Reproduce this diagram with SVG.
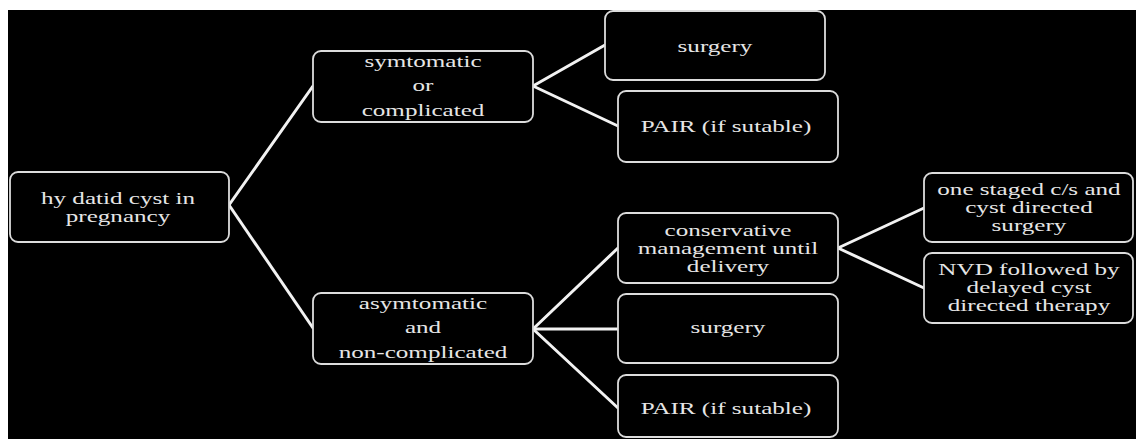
<svg xmlns="http://www.w3.org/2000/svg" width="1136" height="439" viewBox="0 0 1136 439">
<style>
.box{fill:#000;stroke:#dcdcdc;stroke-width:1.8}
.t{font-family:"Liberation Serif","Times New Roman",serif;font-size:16px;fill:#e6e6e6;text-anchor:middle}
.c{stroke:#f2f2f2;stroke-width:3;fill:none;stroke-linecap:round}
</style>
<rect x="0" y="0" width="1136" height="439" fill="#fff"/>
<rect x="8" y="10" width="1128" height="429" fill="#000"/>
<g id="connectors">
<line class="c" x1="229" y1="205" x2="313" y2="86"/>
<line class="c" x1="229" y1="205" x2="313" y2="328"/>
<line class="c" x1="533" y1="86" x2="605" y2="45"/>
<line class="c" x1="533" y1="86" x2="618" y2="126"/>
<line class="c" x1="533" y1="329" x2="618" y2="248"/>
<line class="c" x1="533" y1="329" x2="618" y2="329"/>
<line class="c" x1="533" y1="329" x2="618" y2="408"/>
<line class="c" x1="838" y1="248" x2="924" y2="208"/>
<line class="c" x1="838" y1="248" x2="924" y2="288"/>
</g>
<g id="root">
<rect class="box" x="10" y="172" width="219" height="70" rx="8"/>
<text class="t" transform="translate(118,204) scale(1.57,1)"><tspan x="0" y="0">hy datid cyst in</tspan><tspan x="0" y="18">pregnancy</tspan></text>
</g>
<g id="symptomatic">
<rect class="box" x="313" y="51" width="220" height="71" rx="8"/>
<text class="t" transform="translate(423,67) scale(1.57,1)"><tspan x="0" y="0">symtomatic</tspan><tspan x="0" y="24">or</tspan><tspan x="0" y="49">complicated</tspan></text>
</g>
<g id="surgery1">
<rect class="box" x="605" y="11" width="220" height="69" rx="8"/>
<text class="t" transform="translate(715,52) scale(1.57,1)">surgery</text>
</g>
<g id="pair1">
<rect class="box" x="618" y="91" width="220" height="71" rx="8"/>
<text class="t" transform="translate(726,132) scale(1.57,1)">PAIR (if sutable)</text>
</g>
<g id="asymptomatic">
<rect class="box" x="313" y="293" width="220" height="71" rx="8"/>
<text class="t" transform="translate(423,309) scale(1.57,1)"><tspan x="0" y="0">asymtomatic</tspan><tspan x="0" y="24">and</tspan><tspan x="0" y="49">non-complicated</tspan></text>
</g>
<g id="conservative">
<rect class="box" x="618" y="213" width="220" height="70" rx="8"/>
<text class="t" transform="translate(728,236) scale(1.57,1)"><tspan x="0" y="0">conservative</tspan><tspan x="0" y="18">management until</tspan><tspan x="0" y="36">delivery</tspan></text>
</g>
<g id="surgery2">
<rect class="box" x="618" y="294" width="220" height="69" rx="8"/>
<text class="t" transform="translate(728,333) scale(1.57,1)">surgery</text>
</g>
<g id="pair2">
<rect class="box" x="618" y="375" width="220" height="62" rx="8"/>
<text class="t" transform="translate(726,414) scale(1.57,1)">PAIR (if sutable)</text>
</g>
<g id="onestaged">
<rect class="box" x="924" y="173" width="209" height="69" rx="8"/>
<text class="t" transform="translate(1029,195) scale(1.57,1)"><tspan x="0" y="0">one staged c/s and</tspan><tspan x="0" y="18">cyst directed</tspan><tspan x="0" y="36">surgery</tspan></text>
</g>
<g id="nvd">
<rect class="box" x="924" y="253" width="209" height="70" rx="8"/>
<text class="t" transform="translate(1029,275) scale(1.57,1)"><tspan x="0" y="0">NVD followed by</tspan><tspan x="0" y="18">delayed cyst</tspan><tspan x="0" y="36">directed therapy</tspan></text>
</g>
</svg>
